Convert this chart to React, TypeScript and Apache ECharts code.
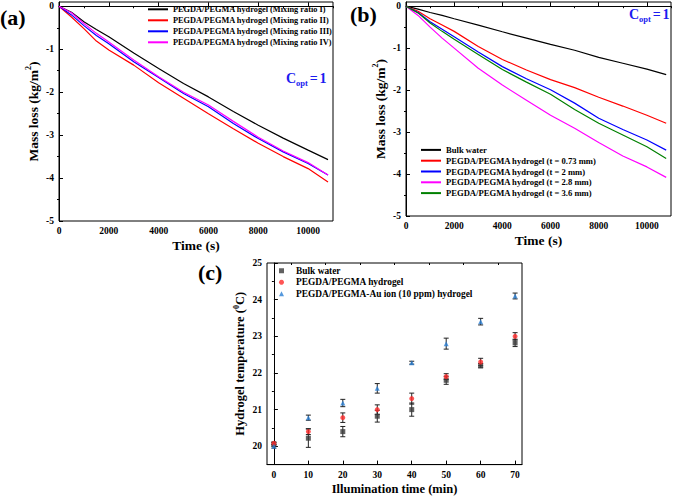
import React, { useEffect, useRef } from "react";
import * as echarts from "echarts";

// ---------- Panel (a) ----------
const timeA = [0, 500, 1000, 1500, 2000, 3000, 4000, 5000, 6000, 7000, 8000, 9000, 10000, 10800];
const namesA = [
  "PEGDA/PEGMA hydrogel (Mixing ratio I)",
  "PEGDA/PEGMA hydrogel (Mixing ratio II)",
  "PEGDA/PEGMA hydrogel (Mixing ratio III)",
  "PEGDA/PEGMA hydrogel (Mixing ratio IV)",
];
const ratioI = [0, -0.14, -0.36, -0.54, -0.71, -1.09, -1.45, -1.8, -2.11, -2.45, -2.77, -3.07, -3.35, -3.57];
const ratioII = [0, -0.25, -0.52, -0.81, -1.02, -1.37, -1.78, -2.14, -2.5, -2.85, -3.19, -3.5, -3.78, -4.09];
const ratioIII = [0, -0.2, -0.45, -0.68, -0.87, -1.29, -1.66, -2.03, -2.34, -2.73, -3.08, -3.39, -3.66, -3.93];
const ratioIV = [0, -0.15, -0.4, -0.63, -0.83, -1.25, -1.64, -2.0, -2.3, -2.68, -3.05, -3.37, -3.64, -3.93];
const colorsA = ["#000000", "#ff0000", "#0000ff", "#ff00ff"];

// ---------- Panel (b) ----------
const timeB = [0, 500, 1000, 1500, 2000, 3000, 4000, 5000, 6000, 7000, 8000, 9000, 10000, 10800];
const namesB = [
  "Bulk water",
  "PEGDA/PEGMA hydrogel (t = 0.73 mm)",
  "PEGDA/PEGMA hydrogel (t = 2 mm)",
  "PEGDA/PEGMA hydrogel (t = 2.8 mm)",
  "PEGDA/PEGMA hydrogel (t = 3.6 mm)",
];
const bulkB = [0, -0.07, -0.15, -0.22, -0.3, -0.45, -0.61, -0.76, -0.91, -1.05, -1.22, -1.36, -1.5, -1.63];
const t073 = [0, -0.12, -0.3, -0.45, -0.6, -0.96, -1.27, -1.52, -1.75, -1.94, -2.17, -2.38, -2.6, -2.79];
const t2 = [0, -0.15, -0.37, -0.55, -0.73, -1.09, -1.44, -1.73, -1.99, -2.31, -2.67, -2.94, -3.19, -3.43];
const t28 = [0, -0.22, -0.5, -0.76, -1.0, -1.48, -1.88, -2.24, -2.6, -2.91, -3.25, -3.57, -3.83, -4.08];
const t36 = [0, -0.16, -0.4, -0.6, -0.79, -1.15, -1.51, -1.81, -2.1, -2.46, -2.79, -3.07, -3.35, -3.63];
const colorsB = ["#000000", "#ff0000", "#0000ff", "#ff00ff", "#008000"];

// ---------- Panel (c) ----------
const illumTime = [0, 10, 20, 30, 40, 50, 60, 70];
const namesC = ["Bulk water", "PEGDA/PEGMA hydrogel", "PEGDA/PEGMA-Au ion (10 ppm) hydrogel"];
const tempBulk = [20.05, 20.22, 20.4, 20.82, 21.0, 21.8, 22.2, 22.82];
const errBulk = [0.05, 0.25, 0.14, 0.16, 0.18, 0.11, 0.06, 0.1];
const tempGel = [20.08, 20.4, 20.78, 21.0, 21.3, 21.9, 22.3, 23.0];
const errGel = [0.04, 0.08, 0.13, 0.13, 0.15, 0.08, 0.1, 0.1];
const tempAu = [20.0, 20.78, 21.18, 21.58, 22.28, 22.8, 23.4, 24.1];
const errAu = [0.05, 0.07, 0.1, 0.13, 0.04, 0.15, 0.09, 0.08];
const colorsC = ["#3a3a3a", "#ff2a2a", "#2a7fd4"];
const symbolsC = ["rect", "circle", "triangle"];

const xTicksAB = [0, 2000, 4000, 6000, 8000, 10000];
const xMinorAB = [1000, 3000, 5000, 7000, 9000, 11000];
const yTicksAB = [-5, -4, -3, -2, -1, 0];
const yMinorAB = [-4.5, -3.5, -2.5, -1.5, -0.5];
const xTicksC = [0, 10, 20, 30, 40, 50, 60, 70];
const xMinorC = [5, 15, 25, 35, 45, 55, 65];
const yTicksC = [20, 21, 22, 23, 24, 25];
const yMinorC = [19.5, 20.5, 21.5, 22.5, 23.5, 24.5];

const FONT = '"Liberation Serif", "Times New Roman", serif';
const labelStyle = { fontFamily: FONT, fontWeight: "bold" as const, fontSize: 9.5, color: "#000" };
const nameStyle = (size: number) => ({
  fontFamily: FONT,
  fontWeight: "bold" as const,
  fontSize: size,
  color: "#000",
  lineHeight: size + 4,
  rich: {
    sup: { fontFamily: FONT, fontWeight: "bold" as const, fontSize: Math.round(size * 0.62), verticalAlign: "top" as const, lineHeight: 8, color: "#000" },
  },
});

function mainAxis(grid: number, min: number, max: number, ticks: number[], name: string, nameGap: number, nameSize: number) {
  return {
    type: "value",
    gridIndex: grid,
    min,
    max,
    name,
    nameLocation: "middle",
    nameGap,
    nameTextStyle: nameStyle(nameSize),
    axisLine: { show: true, lineStyle: { color: "#000", width: 1 } },
    axisTick: { show: true, inside: true, length: 4, customValues: ticks, lineStyle: { color: "#000" } },
    axisLabel: { show: true, customValues: ticks, margin: 5, formatter: (v: number) => String(v), ...labelStyle },
    splitLine: { show: false },
  };
}
function minorAxis(grid: number, min: number, max: number, ticks: number[]) {
  return {
    type: "value",
    gridIndex: grid,
    min,
    max,
    axisLine: { show: false },
    axisTick: { show: true, inside: true, length: 2, customValues: ticks, lineStyle: { color: "#000" } },
    axisLabel: { show: false },
    splitLine: { show: false },
  };
}

const zip = (xs: number[], ys: number[]) => xs.map((x, i) => [x, ys[i]]);

const errRender = (params: any, api: any) => {
  const x = api.value(0);
  const y = api.value(1);
  const e = api.value(2);
  const top = api.coord([x, y + e]);
  const bot = api.coord([x, y - e]);
  const w = 2.5;
  const st = { stroke: "#222", lineWidth: 1 };
  return {
    type: "group",
    children: [
      { type: "line", shape: { x1: top[0], y1: top[1], x2: bot[0], y2: bot[1] }, style: st },
      { type: "line", shape: { x1: top[0] - w, y1: top[1], x2: top[0] + w, y2: top[1] }, style: st },
      { type: "line", shape: { x1: bot[0] - w, y1: bot[1], x2: bot[0] + w, y2: bot[1] }, style: st },
    ],
  };
};

const BLUE = "#1c1cf0";
const coptText = (x: number, y: number) => ({
  type: "text",
  x,
  y,
  style: {
    text: "{c|C}{s|opt}{sp| }{c|=}{sp| }{c|1}",
    verticalAlign: "middle",
    rich: {
      c: { fontFamily: FONT, fontWeight: "bold", fontSize: 14, lineHeight: 18, fill: BLUE },
      sp: { fontFamily: FONT, fontWeight: "bold", fontSize: 7, lineHeight: 18, fill: BLUE },
      s: { fontFamily: FONT, fontWeight: "bold", fontSize: 8.5, lineHeight: 9, verticalAlign: "bottom", fill: BLUE },
    },
  },
});

export default function App() {
  const ref = useRef<HTMLDivElement>(null);
  useEffect(() => {
    if (!ref.current) return;
    const chart = echarts.init(ref.current, null, { renderer: "svg" });
    const seriesA = [ratioI, ratioII, ratioIII, ratioIV].map((d, i) => ({
      type: "line",
      name: namesA[i],
      xAxisIndex: 0,
      yAxisIndex: 0,
      data: zip(timeA, d),
      symbol: "none",
      lineStyle: { color: colorsA[i], width: 1.2 },
      itemStyle: { color: colorsA[i] },
    }));
    const seriesB = [bulkB, t073, t2, t28, t36].map((d, i) => ({
      type: "line",
      name: namesB[i],
      xAxisIndex: 1,
      yAxisIndex: 1,
      data: zip(timeB, d),
      symbol: "none",
      lineStyle: { color: colorsB[i], width: 1.2 },
      itemStyle: { color: colorsB[i] },
    }));
    const tempsC = [tempBulk, tempGel, tempAu];
    const errsC = [errBulk, errGel, errAu];
    const errSeries = tempsC.map((t, k) => ({
      type: "custom",
      name: "err" + k,
      xAxisIndex: 2,
      yAxisIndex: 2,
      renderItem: errRender,
      data: illumTime.map((x, i) => [x, t[i], errsC[k][i]]),
      z: 2,
    }));
    const scatterSeries = tempsC.map((t, k) => ({
      type: "scatter",
      name: "c" + k,
      xAxisIndex: 2,
      yAxisIndex: 2,
      data: zip(illumTime, t),
      symbol: symbolsC[k],
      symbolSize: 5,
      itemStyle: { color: colorsC[k] },
      z: 3,
    }));

    const legendText = (size: number, lh: number) => ({ fontFamily: FONT, fontWeight: "bold" as const, fontSize: size, lineHeight: lh, color: "#000" });

    chart.setOption({
      animation: false,
      backgroundColor: "#fff",
      grid: [
        { left: 59, top: 2, width: 274, height: 219, show: true, borderColor: "#000", borderWidth: 1, backgroundColor: "transparent" },
        { left: 406, top: 2, width: 265, height: 214, show: true, borderColor: "#000", borderWidth: 1, backgroundColor: "transparent" },
        { left: 267, top: 263, width: 255, height: 204, show: true, borderColor: "#000", borderWidth: 1, backgroundColor: "transparent" },
      ],
      xAxis: [
        mainAxis(0, 0, 11000, xTicksAB, "Time (s)", 14, 13.5),
        mainAxis(1, 0, 11000, xTicksAB, "Time (s)", 14, 13.5),
        mainAxis(2, -2, 72, xTicksC, "Illumination time (min)", 14, 12.5),
        minorAxis(0, 0, 11000, xMinorAB),
        minorAxis(1, 0, 11000, xMinorAB),
        minorAxis(2, -2, 72, xMinorC),
      ],
      yAxis: [
        mainAxis(0, -5, 0.1, yTicksAB, "Mass loss (kg/m{sup|2})", 17, 13.5),
        mainAxis(1, -5, 0.1, yTicksAB, "Mass loss (kg/m{sup|2})", 16, 13.5),
        mainAxis(2, 19.5, 25, yTicksC, "Hydrogel temperature ({sup|0}C)", 18, 12.5),
        minorAxis(0, -5, 0.1, yMinorAB),
        minorAxis(1, -5, 0.1, yMinorAB),
        minorAxis(2, 19.5, 25, yMinorC),
      ],
      legend: [
        {
          data: namesA,
          orient: "vertical",
          left: 147,
          top: 3.8,
          padding: 0,
          itemWidth: 20,
          itemHeight: 8,
          itemGap: 0,
          itemStyle: { opacity: 0 },
          textStyle: legendText(8.3, 11),
          selectedMode: false,
        },
        {
          data: namesB,
          orient: "vertical",
          left: 420,
          top: 144.5,
          padding: 0,
          itemWidth: 20,
          itemHeight: 8,
          itemGap: 0,
          itemStyle: { opacity: 0 },
          textStyle: legendText(8.6, 10.8),
          selectedMode: false,
        },
        {
          data: ["c0", "c1", "c2"].map((n, k) => ({ name: n, icon: symbolsC[k] })),
          formatter: (n: string) => namesC[Number(n.slice(1))],
          orient: "vertical",
          left: 279,
          top: 265,
          padding: 0,
          itemWidth: 5,
          itemHeight: 5,
          itemGap: 0,
          textStyle: { ...legendText(9.4, 11.5), padding: [0, 0, 0, 7] },
          selectedMode: false,
        },
      ],
      graphic: [
        { type: "text", x: 0, y: 17, style: { text: "(a)", font: `bold 22px ${FONT}`, fill: "#000", verticalAlign: "middle" } },
        { type: "text", x: 350, y: 14, style: { text: "(b)", font: `bold 22px ${FONT}`, fill: "#000", verticalAlign: "middle" } },
        { type: "text", x: 198, y: 272, style: { text: "(c)", font: `bold 22px ${FONT}`, fill: "#000", verticalAlign: "middle" } },
        coptText(286, 78),
        coptText(629, 14),
      ],
      series: [...seriesA, ...seriesB, ...errSeries, ...scatterSeries],
    });
    return () => chart.dispose();
  }, []);
  return <div ref={ref} style={{ position: "fixed", left: 0, top: 0, width: 674, height: 498, background: "#fff" }} />;
}
